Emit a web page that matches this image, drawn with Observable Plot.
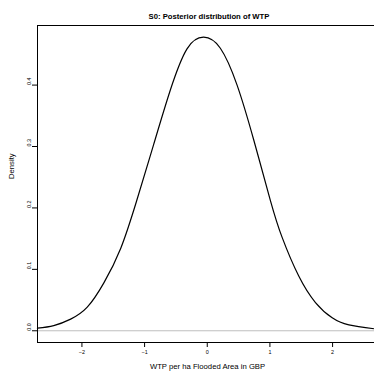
<!DOCTYPE html>
<html>
<head>
<meta charset="utf-8">
<script src="https://cdn.jsdelivr.net/npm/d3@7"></script>
<script src="https://cdn.jsdelivr.net/npm/@observablehq/plot@0.6"></script>
<style>
  html, body { margin: 0; padding: 0; background: #fff; }
  svg { display: block; }
</style>
</head>
<body>
<div id="chart"></div>
<script>
// Data
const wtp = [-2.71, -2.45, -2.18, -1.915, -1.65, -1.38, -1.13, -0.856, -0.589, -0.323, -0.057, 0.209, 0.476, 0.741, 1.008, 1.195, 1.46, 1.727, 1.994, 2.26, 2.669];
const density = [0.0042, 0.0085, 0.0190, 0.0385, 0.0780, 0.1345, 0.2105, 0.303, 0.392, 0.459, 0.478, 0.460, 0.400, 0.311, 0.212, 0.152, 0.089, 0.046, 0.021, 0.0095, 0.0032];
const xTicks = [-2, -1, 0, 1, 2];
const yTicks = [0.0, 0.1, 0.2, 0.3, 0.4];
const titleText = ["S0: Posterior distribution of WTP"];
const xLabel = ["WTP per ha Flooded Area in GBP"];
const yLabel = ["Density"];
const xDomain = [-2.709, 2.669];
const yDomain = [-0.0191, 0.497];

const pts = wtp.map((x, i) => ({x, y: density[i]}));
const font = "'Liberation Sans', Arial, Helvetica, sans-serif";

const plot = Plot.plot({
  width: 374,
  height: 372,
  marginLeft: 37,
  marginRight: 0,
  marginTop: 25,
  marginBottom: 30,
  style: {fontFamily: font, background: "#fff", color: "#000"},
  x: {domain: xDomain, axis: null},
  y: {domain: yDomain, axis: null},
  marks: [
    Plot.ruleY([0], {stroke: "#bebebe", strokeWidth: 1}),
    Plot.line(pts, {x: "x", y: "y", curve: "natural", stroke: "#000", strokeWidth: 1.2}),
    // box (left, top, bottom)
    Plot.ruleX([xDomain[0]], {stroke: "#000", strokeWidth: 1}),
    Plot.ruleY([yDomain[1]], {stroke: "#000", strokeWidth: 1}),
    Plot.ruleY([yDomain[0]], {stroke: "#000", strokeWidth: 1}),
    Plot.axisX({ticks: xTicks, tickSize: 5, tickPadding: 3, fontSize: 5.4, label: null, tickFormat: d3.format("d")}),
    Plot.axisY({ticks: yTicks, tickSize: 5, tickFormat: () => "", label: null}),
    Plot.text(yTicks, {y: d => d, text: d => d.toFixed(1), frameAnchor: "left", dx: -8.3, rotate: -90, fontSize: 5.4}),
    Plot.text(titleText, {text: d => d, frameAnchor: "top", dy: -12.3, dx: 3, fontWeight: "bold", fontSize: 7.7}),
    Plot.text(xLabel, {text: d => d, frameAnchor: "bottom", dy: 26, dx: 1.5, fontSize: 7.7}),
    Plot.text(yLabel, {text: d => d, frameAnchor: "left", dx: -25.5, dy: -5, rotate: -90, fontSize: 7.7})
  ]
});
document.getElementById("chart").appendChild(plot);
</script>
</body>
</html>
